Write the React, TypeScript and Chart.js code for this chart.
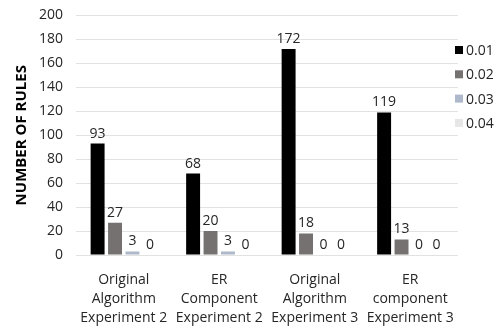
import React, { useEffect, useRef } from "react";
import { Chart, registerables } from "chart.js";

Chart.register(...registerables);

const categories: string[][] = [
  ["Original", "Algorithm", "Experiment 2"],
  ["ER", "Component", "Experiment 2"],
  ["Original", "Algorithm", "Experiment 3"],
  ["ER", "component", "Experiment 3"],
];
const seriesNames = ["0.01", "0.02", "0.03", "0.04"];
const s001 = [93, 68, 172, 119];
const s002 = [27, 20, 18, 13];
const s003 = [3, 3, 0, 0];
const s004 = [0, 0, 0, 0];
const seriesColors = ["#000000", "#767171", "#ADB9CA", "#E7E6E6"];
const yTicksMax = 200;
const yStep = 20;

const FONT = "'Open Sans', sans-serif";
const SHIFT = 6;

const labelPlugin = {
  id: "valueLabels",
  afterDatasetsDraw(chart: any) {
    const ctx = chart.ctx;
    ctx.save();
    ctx.font = `14px ${FONT}`;
    ctx.fillStyle = "#262626";
    ctx.textAlign = "center";
    ctx.textBaseline = "bottom";
    chart.data.datasets.forEach((ds: any, i: number) => {
      const meta = chart.getDatasetMeta(i);
      meta.data.forEach((bar: any, j: number) => {
        ctx.fillText(String(ds.data[j]), bar.x, bar.y - 3);
      });
    });
    ctx.restore();
  },
};

const legendPlugin = {
  id: "customLegend",
  afterDraw(chart: any) {
    const ctx = chart.ctx;
    ctx.save();
    ctx.font = `14px ${FONT}`;
    ctx.textBaseline = "middle";
    ctx.textAlign = "left";
    const x = chart.chartArea.right - 3;
    seriesNames.forEach((name, i) => {
      const y = 50 + SHIFT + i * 24.3;
      ctx.fillStyle = seriesColors[i];
      ctx.fillRect(x, y - 4, 8, 8);
      ctx.fillStyle = "#262626";
      ctx.fillText(name, x + 11, y + 1);
    });
    ctx.restore();
  },
};

export default function App() {
  const ref = useRef<HTMLCanvasElement | null>(null);
  useEffect(() => {
    if (!ref.current) return;
    const data = [s001, s002, s003, s004];
    const chart = new Chart(ref.current, {
      type: "bar",
      data: {
        labels: categories,
        datasets: seriesNames.map((n, i) => ({
          label: n,
          data: data[i],
          backgroundColor: seriesColors[i],
          borderWidth: 0,
          barPercentage: 0.8,
          categoryPercentage: 0.73,
        })),
      },
      options: {
        animation: false,
        responsive: false,
        maintainAspectRatio: false,
        layout: { padding: { top: 0, right: 45, left: 13, bottom: 0 } },
        plugins: {
          legend: { display: false },
          tooltip: { enabled: false },
        },
        scales: {
          x: {
            grid: { display: false },
            border: { display: false },
            afterFit: (scale: any) => {
              scale.height = 74;
            },
            ticks: {
              color: "#262626",
              font: { family: FONT, size: 14, lineHeight: 1.35 },
              maxRotation: 0,
              autoSkip: false,
              padding: 8,
            },
          },
          y: {
            min: 0,
            max: yTicksMax,
            afterFit: (scale: any) => {
              scale.width = 63;
            },
            ticks: {
              stepSize: yStep,
              color: "#262626",
              font: { family: FONT, size: 14 },
              padding: 13,
            },
            grid: { color: "#E2E2E2", drawTicks: false },
            border: { display: false },
            title: {
              display: true,
              text: "NUMBER OF RULES",
              color: "#000000",
              font: { family: FONT, size: 15, weight: "bold" },
              padding: { top: 0, bottom: 0 },
            },
          },
        },
      },
      plugins: [labelPlugin, legendPlugin],
    });
    return () => chart.destroy();
  }, []);
  return (
    <div style={{ position: "absolute", left: 0, top: -SHIFT, width: 503, height: 329 + SHIFT, background: "#fff" }}>
      <canvas ref={ref} width={503} height={329 + SHIFT} />
    </div>
  );
}
